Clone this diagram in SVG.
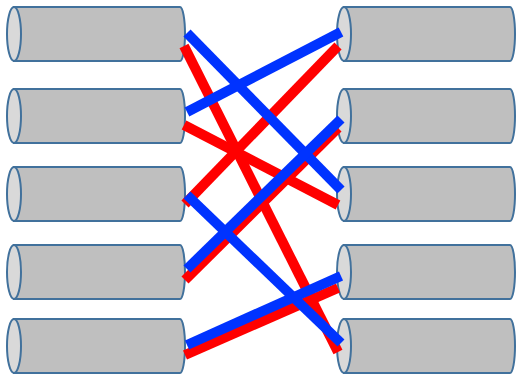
<svg xmlns="http://www.w3.org/2000/svg" width="517" height="376" viewBox="0 0 517 376">
<defs>
<style>
.body{fill:#bfbfbf;stroke:#41719c;stroke-width:2}
.cap{fill:#d9d9d9;stroke:#41719c;stroke-width:2}
.r{stroke:#ff0000;stroke-width:10;fill:none}
.b{stroke:#0033ff;stroke-width:10;fill:none}
</style>
<g id="cyl">
<path class="body" d="M14,0 H180 A5,27 0 0 1 180,54 H14 Z"/>
<ellipse class="cap" cx="14" cy="27" rx="7" ry="27"/>
</g>
</defs>
<g id="L1"><use href="#cyl" x="0" y="7"/></g>
<g id="L2"><use href="#cyl" x="0" y="89"/></g>
<g id="L3"><use href="#cyl" x="0" y="167"/></g>
<g id="L4"><use href="#cyl" x="0" y="245"/></g>
<g id="L5"><use href="#cyl" x="0" y="319"/></g>
<g id="R1"><use href="#cyl" x="330" y="7"/></g>
<g id="R2"><use href="#cyl" x="330" y="89"/></g>
<g id="R3"><use href="#cyl" x="330" y="167"/></g>
<g id="R4"><use href="#cyl" x="330" y="245"/></g>
<g id="R5"><use href="#cyl" x="330" y="319"/></g>
<g id="connectors">
<line class="r" x1="184" y1="46" x2="338" y2="352"/>
<line class="r" x1="184" y1="125" x2="338" y2="205"/>
<line class="r" x1="185" y1="204" x2="338" y2="46"/>
<line class="r" x1="185" y1="280" x2="338" y2="128"/>
<line class="r" x1="185" y1="355" x2="338" y2="288"/>
<line class="b" x1="187" y1="33" x2="341" y2="190"/>
<line class="b" x1="187" y1="112" x2="341" y2="32"/>
<line class="b" x1="187" y1="195" x2="341" y2="343"/>
<line class="b" x1="187" y1="269" x2="341" y2="119"/>
<line class="b" x1="187" y1="345" x2="341" y2="276"/>
</g>
</svg>
